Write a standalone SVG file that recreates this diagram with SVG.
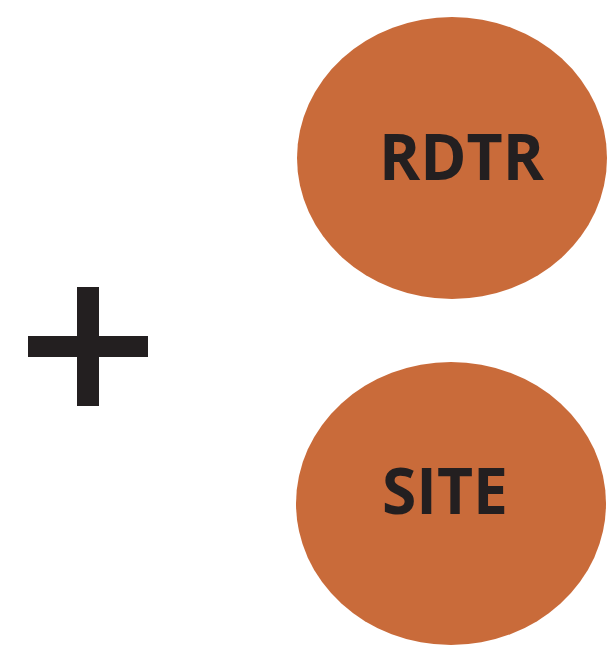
<svg xmlns="http://www.w3.org/2000/svg" width="608" height="669" viewBox="0 0 608 669">
<style>
.node{fill:#C96B3A;}
.lbl{font-family:"Open Sans","Liberation Sans",sans-serif;font-weight:700;font-size:65px;fill:#231F20;}
.plus{fill:#231F20;}
</style>
<rect width="608" height="669" fill="#FFFFFF"/>
<g id="connectors"></g>
<g id="plus">
<rect class="plus" x="77" y="287" width="22" height="119"/>
<rect class="plus" x="28" y="336" width="120" height="21"/>
</g>
<g id="rdtr">
<ellipse class="node" cx="452" cy="158" rx="155" ry="141"/>
<text class="lbl" x="379" y="180" textLength="165" lengthAdjust="spacingAndGlyphs">RDTR</text>
</g>
<g id="site">
<ellipse class="node" cx="451" cy="503.5" rx="155" ry="141.5"/>
<text class="lbl" x="382" y="514" textLength="126" lengthAdjust="spacingAndGlyphs">SITE</text>
</g>
</svg>
